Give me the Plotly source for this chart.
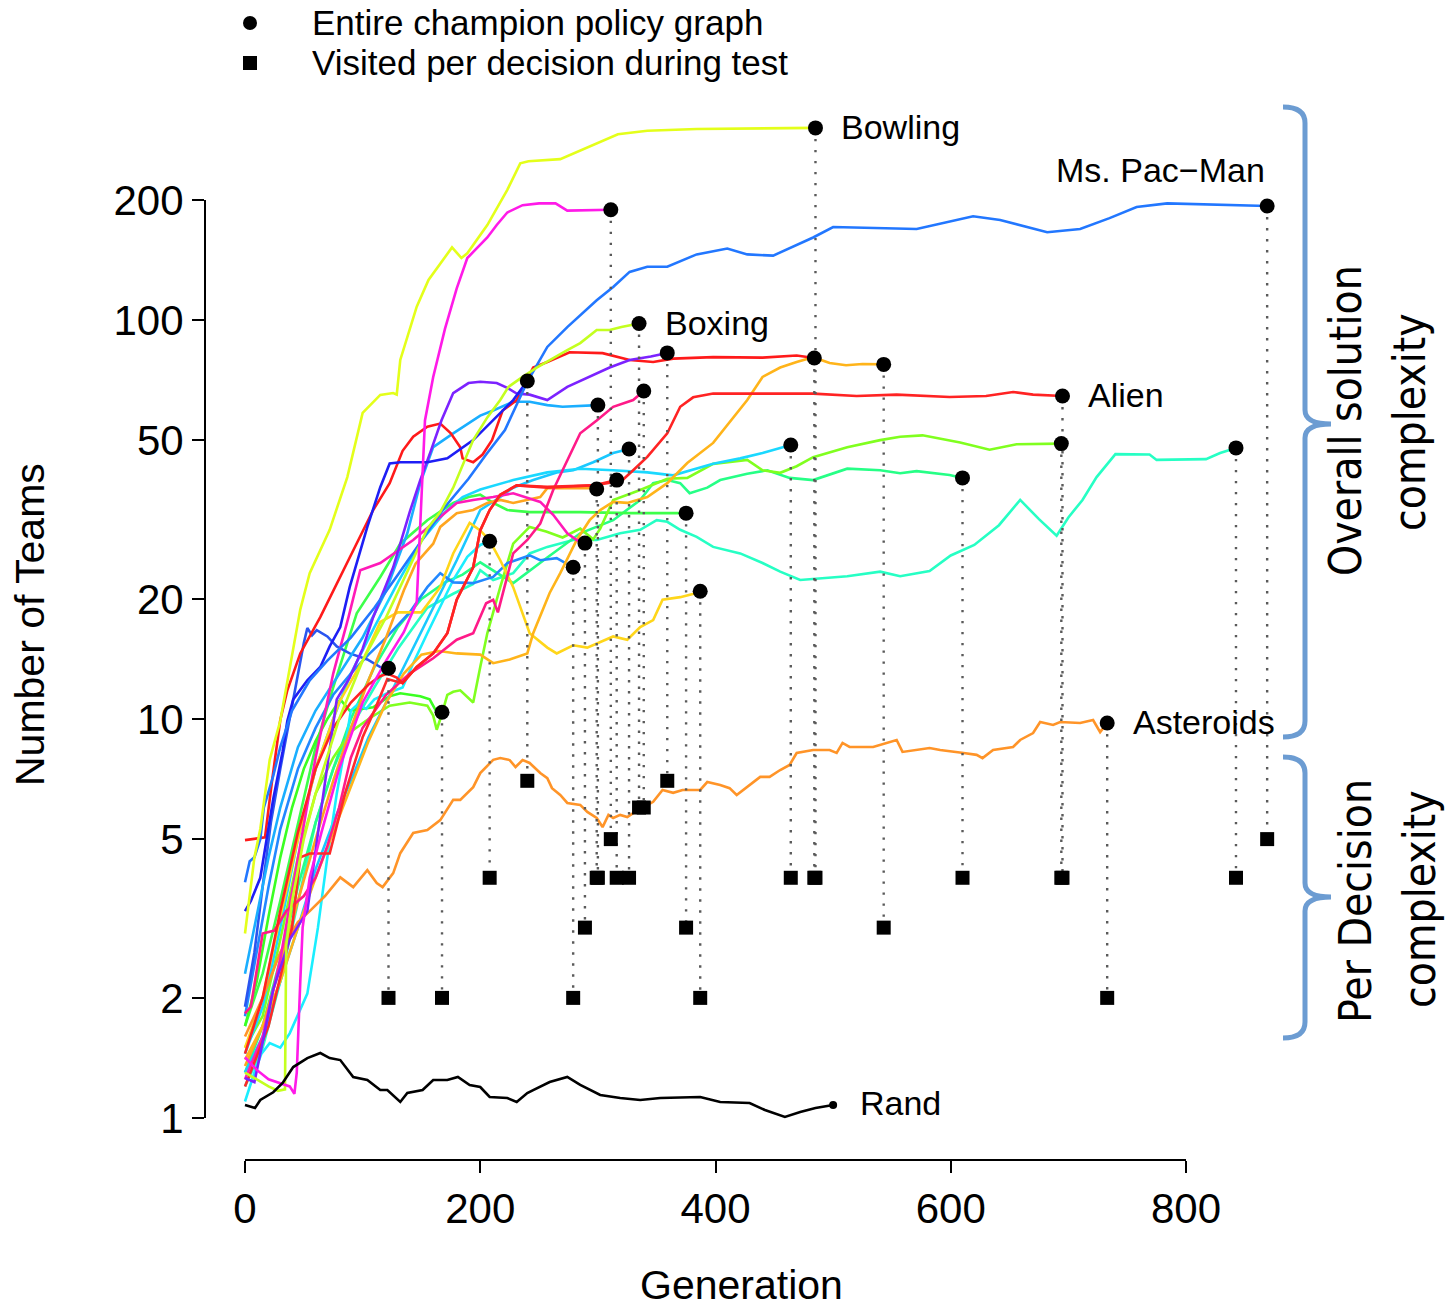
import math
import plotly.graph_objects as go

# ---------------- data (generation, number of teams) ----------------
bowling = [(0, 2.9), (4, 3.6), (8, 4.5), (13, 5.3), (21, 7.9), (30, 9.9), (47, 18.8), (55, 23.2), (72, 29.8),
           (87, 40.4), (100, 58.5), (115, 64.9), (126, 65.6), (129, 65.0), (132, 79.4), (146, 108), (156, 126),
           (176, 152), (184, 143), (189, 147), (206, 173), (223, 212), (234, 247), (241, 250), (268, 253),
           (317, 292), (342, 298), (384, 301), (440, 302), (485, 303)]
magenta = [(0, 1.42), (10, 1.32), (20, 1.25), (30, 1.22), (38, 1.2), (42, 1.15), (44, 1.3), (47, 2.2), (49, 3.0),
           (55, 4.0), (65, 5.2), (80, 7.5), (100, 11), (120, 14), (135, 16.5), (146, 19.6), (150, 35), (153, 56),
           (160, 72), (170, 95), (180, 120), (189, 143), (206, 161), (214, 173), (223, 186), (236, 194),
           (250, 196), (264, 196), (274, 188), (311, 189)]
mspacman = [(0, 3.9), (4, 4.4), (8, 4.5), (13, 5.0), (16, 6.0), (24, 7.2), (30, 8.5), (40, 10.5), (55, 12.5),
            (70, 14), (90, 16), (110, 19), (130, 23), (150, 28), (170, 34), (190, 40), (205, 46), (221, 53),
            (240, 70), (257, 85.6), (274, 96), (299, 112), (313, 121), (327, 132), (342, 136), (359, 136),
            (384, 146), (410, 151), (427, 146), (449, 145), (483, 161), (500, 171), (554, 170), (571, 169),
            (619, 182), (642, 178), (682, 166), (710, 169), (735, 180), (758, 192), (784, 196), (840, 194),
            (869, 193)]
boxing = [(0, 1.3), (10, 1.25), (20, 1.2), (28, 1.17), (34, 1.18), (35, 2.7), (40, 3.5), (50, 5), (60, 6.5),
          (80, 10), (100, 14), (120, 18), (140, 24), (155, 30), (166, 33), (177, 38), (194, 50), (206, 57),
          (217, 63), (224, 68), (236, 72), (248, 76), (274, 84), (285, 87.5), (299, 94.4), (310, 94.4),
          (320, 96), (335, 98)]
purple = [(0, 1.26), (8, 1.23), (16, 1.6), (24, 2.1), (38, 2.8), (53, 3.3), (65, 6), (78, 11.2), (89, 12.7),
          (100, 15), (109, 18), (126, 24), (140, 33), (149, 39.7), (158, 47), (167, 56), (177, 65.6), (190, 69.5),
          (200, 70), (214, 69.5), (223, 67.6), (231, 65.4), (242, 65), (257, 63), (274, 68), (293, 72),
          (310, 76), (327, 79.4), (345, 81), (359, 82.7)]
red_a = [(0, 4.97), (17, 5.05), (23, 7.0), (30, 9.94), (36, 11.8), (47, 14.6), (64, 18), (81, 22.7), (92, 26.5),
         (109, 33.4), (123, 39), (134, 47), (143, 51), (155, 54), (166, 55), (175, 52), (183, 48), (185, 45),
         (194, 44), (202, 46), (210, 50), (219, 59.3), (231, 63), (245, 76), (257, 78.5), (276, 83), (304, 82.6),
         (327, 79.4), (347, 78.5), (364, 80), (398, 80.7), (440, 80.5), (469, 81.5), (484, 80.3)]
orange_a = [(0, 1.4), (15, 1.7), (30, 2.2), (45, 3.0), (60, 4.0), (75, 5.2), (90, 6.8), (105, 8.8), (120, 11),
            (135, 13), (150, 14.5), (165, 14.8), (180, 14.6), (200, 14.5), (211, 13.8), (225, 14.1), (240, 14.6),
            (245, 16.4), (259, 20.7), (268, 23.2), (282, 28.1), (293, 31.5), (302, 33.4), (313, 35), (325, 34.8),
            (342, 36), (359, 39), (376, 43.8), (398, 49.2), (427, 63), (440, 72), (455, 76), (469, 78.5),
            (483, 80.7), (497, 78), (511, 77), (525, 77.6), (543, 77.4)]
alien = [(0, 1.45), (15, 2.0), (30, 3.3), (45, 5.2), (60, 7.5), (75, 9.5), (90, 11), (105, 12.2), (115, 12.8),
         (121, 13), (129, 12.7), (134, 12.3), (146, 13.5), (160, 14.6), (172, 16.4), (180, 19.9), (194, 24),
         (200, 29.7), (208, 33.4), (217, 36.5), (231, 38.5), (257, 38), (279, 38.3), (296, 38.5), (313, 39.2),
         (321, 39.7), (330, 42), (342, 45.4), (359, 52), (370, 60.6), (381, 64), (398, 65.4), (440, 65.4),
         (483, 65.4), (520, 64.5), (554, 65), (599, 64.1), (630, 64.5), (653, 66), (670, 65), (695, 64.5)]
red_b = [(0, 1.2), (20, 1.7), (40, 3.0), (47, 4.5), (55, 4.6), (72, 4.6), (85, 6.5), (100, 9), (110, 10.5),
         (121, 12.6), (134, 12.3), (146, 13.5), (160, 14.6), (172, 16.4), (180, 19.9), (194, 24), (200, 29.7),
         (208, 33.4), (217, 36.5), (231, 38.5), (257, 38.2), (279, 38.3), (296, 38.5), (316, 39.7)]
lime = [(0, 1.5), (15, 1.8), (30, 2.8), (45, 4.5), (60, 6.5), (75, 8), (90, 9.3), (105, 10), (123, 10.8),
        (140, 11), (155, 10.8), (160, 10.2), (163, 9.4), (167, 10.2), (172, 11.5), (177, 11.7), (183, 11.8),
        (194, 11), (200, 13.5), (206, 16.4), (217, 21.4), (228, 27.5), (242, 30.3), (256, 29.5), (270, 28.5),
        (285, 30), (296, 28.2), (302, 30), (313, 35.4), (336, 37.5), (359, 40), (376, 40.2), (398, 43.6),
        (427, 44.6), (440, 42), (455, 41.4), (469, 43), (483, 45.3), (512, 48), (540, 50), (557, 51),
        (576, 51.4), (608, 49.3), (633, 47.3), (656, 48.8), (694, 49)]
teal = [(0, 1.2), (15, 1.5), (30, 2.2), (45, 3.5), (60, 5.5), (75, 7.5), (90, 9.5), (110, 12), (130, 15),
        (155, 19), (177, 20.6), (194, 21.8), (200, 23.6), (211, 22.3), (228, 23.2), (242, 26), (257, 27),
        (279, 28.1), (299, 28.1), (319, 29.2), (336, 29.8), (350, 31.5), (359, 31.2), (370, 29.8), (384, 28.6),
        (398, 27), (421, 26), (440, 24.6), (455, 23.4), (472, 22.3), (489, 22.5), (512, 22.8), (540, 23.4),
        (557, 22.8), (582, 23.5), (600, 25.7), (620, 27.3), (641, 30.6), (659, 35.4), (675, 31.7), (690, 28.8),
        (700, 32), (712, 35.4), (724, 40.4), (740, 46.1), (769, 46), (775, 44.6), (817, 44.8), (829, 46.4),
        (842.5, 47.8)]
asteroids = [(0, 1.6), (15, 2.0), (30, 2.6), (45, 3.1), (55, 3.3), (68, 3.6), (81, 4.01), (92, 3.79), (104, 4.18),
             (112, 3.88), (117, 3.79), (126, 4.11), (132, 4.61), (143, 5.18), (155, 5.27), (166, 5.58), (177, 6.27),
             (183, 6.27), (194, 6.75), (200, 7.32), (211, 7.9), (217, 7.98), (225, 7.89), (230, 7.58), (236, 7.89),
             (242, 7.76), (251, 7.32), (257, 7.11), (261, 6.71), (268, 6.45), (274, 6.16), (285, 6.09),
             (291, 5.85), (299, 5.65), (304, 5.36), (309, 5.75), (313, 5.65), (319, 5.75), (325, 5.68),
             (330, 5.81), (347, 6.2), (355, 6.64), (364, 6.53), (372, 6.64), (387, 6.64), (393, 6.95), (404, 6.83),
             (412, 6.71), (418, 6.45), (427, 6.76), (438, 7.16), (446, 7.16), (455, 7.45), (463, 7.67),
             (469, 8.22), (483, 8.36), (497, 8.36), (503, 8.22), (508, 8.71), (514, 8.51), (534, 8.51),
             (554, 8.86), (559, 8.27), (582, 8.46), (591, 8.36), (611, 8.22), (622, 8.13), (627, 7.98),
             (636, 8.36), (653, 8.51), (659, 8.86), (670, 9.22), (676, 9.83), (687, 9.66), (693, 9.83),
             (710, 9.77), (721, 9.94), (727, 9.27), (733, 9.77)]
spring = [(0, 1.3), (15, 1.7), (30, 2.5), (45, 3.8), (60, 5.5), (75, 7.5), (90, 10), (110, 13.5), (130, 17),
          (150, 20), (170, 22), (185, 23), (200, 24.7), (228, 21.9), (257, 25.4), (285, 29.2), (313, 31.5),
          (336, 35.4), (347, 39), (359, 39.7), (370, 39), (378, 36.8), (393, 38), (404, 39.7), (427, 41.2),
          (444, 42), (463, 40.2), (483, 39.7), (512, 42.4), (540, 42), (557, 41.3), (571, 41.8), (599, 40.9),
          (610, 40.2)]
cyan_a = [(0, 1.45), (15, 1.9), (30, 3), (45, 5), (60, 7.5), (75, 10), (90, 13), (110, 17), (130, 22), (150, 28),
          (170, 33), (185, 36), (200, 37.6), (228, 39.7), (257, 41.5), (285, 42.4), (313, 42), (342, 41.5),
          (364, 40.8), (398, 43.6), (421, 45), (440, 46.4), (464, 48.6)]
green_a = [(0, 1.7), (15, 2.3), (30, 3.5), (45, 5.5), (60, 8.5), (75, 12), (95, 18.4), (115, 22.7), (132, 27.5),
           (155, 31.5), (177, 34.8), (190, 36), (200, 36.5), (211, 34.8), (223, 33.4), (242, 33), (285, 33),
           (327, 32.8), (375, 32.8)]
yellow = [(0, 1.5), (15, 2), (30, 3.2), (45, 5), (60, 7.5), (80, 11), (100, 14), (115, 17.5), (130, 18.5),
          (150, 18.5), (166, 21.4), (177, 26), (191, 31), (200, 29.7), (208, 28), (217, 25), (228, 21.4),
          (236, 18.4), (242, 16.4), (257, 15.1), (265, 14.6), (279, 15.3), (291, 15.1), (313, 16.1), (325, 15.8),
          (336, 17), (347, 17.7), (355, 19.9), (370, 20.2), (384, 20.7), (387, 20.9)]
darkblue = [(0, 3.3), (5, 3.5), (13, 4.0), (24, 6.3), (32, 8.3), (36, 9.9), (41, 11.2), (53, 12.5), (64, 13.5),
            (72, 15.2), (81, 17), (89, 21.4), (104, 30.3), (115, 38.1), (123, 43.7), (132, 44), (155, 44),
            (172, 45), (194, 50), (211, 56), (228, 63), (240, 70.3)]
skyblue = [(0, 2.3), (10, 3.2), (20, 4.5), (30, 6), (45, 8.5), (60, 10.5), (80, 13), (100, 16), (120, 21),
           (138, 29.2), (149, 39), (160, 48), (177, 52), (200, 57.6), (211, 59.3), (228, 62.4), (242, 62.4),
           (257, 61.2), (270, 60.6), (300, 61.2)]
pink = [(0, 1.83), (5, 1.9), (15, 2.9), (25, 2.95), (35, 3.3), (50, 3.6), (60, 4), (70, 4.8), (80, 6), (90, 8),
        (100, 9.5), (120, 11.5), (140, 13), (160, 14.2), (180, 15.8), (194, 16.4), (205, 19.5), (211, 19.9),
        (215, 18.5), (228, 26), (240, 28.1), (251, 30.9), (262, 37.5), (274, 44.6), (285, 52), (299, 56),
        (313, 60.6), (330, 63), (339, 66.4)]
rose = [(0, 1.25), (15, 1.6), (30, 2.5), (45, 4.5), (60, 8), (75, 13), (88, 18), (98, 23.6), (115, 24.6),
        (143, 28.1), (166, 32), (180, 34.8), (194, 35.4), (211, 36), (228, 36.8), (251, 35), (262, 32.5),
        (274, 29.2), (282, 28.1), (289, 27.6)]
cyan_b = [(0, 1.3), (15, 1.6), (30, 2.2), (45, 3), (60, 4.2), (75, 5.5), (90, 7), (105, 9), (120, 11), (140, 14.5),
          (160, 19), (180, 25), (200, 33.4), (217, 36), (228, 38), (245, 39.7), (265, 41.5), (279, 42), (296, 44),
          (313, 46.4), (326.5, 47.5)]
orange_b = [(0, 1.35), (15, 1.7), (30, 2.4), (45, 3.5), (60, 5), (75, 7), (90, 9.5), (105, 12.5), (120, 16),
            (135, 21), (145, 24.5), (160, 27.5), (166, 30.3), (180, 32.8), (194, 33.4), (206, 34.8), (217, 35.4),
            (228, 34.8), (251, 36), (257, 37.9), (293, 37.9), (299, 37.7)]
blue_a = [(0, 1.8), (10, 2.6), (20, 3.8), (30, 5.3), (45, 7.5), (60, 9.5), (75, 11.5), (90, 13), (105, 14.5),
          (120, 16), (140, 18.5), (155, 21.4), (166, 23.2), (177, 22), (194, 21.9), (211, 22.7), (223, 24.6),
          (242, 25.7), (251, 25), (265, 25.3), (279, 24.0)]
cyan_c = [(0, 1.1), (8, 1.3), (14, 1.45), (21, 1.54), (30, 1.5), (38, 1.63), (53, 2.05), (62, 3), (70, 4.5),
          (78, 6.5), (85, 8.5), (90, 10.5), (96, 10.9), (103, 10.6), (110, 11.2), (121, 11.6), (134, 12),
          (143, 13.8), (155, 16.4), (166, 19.1), (177, 22.3), (189, 25.5), (200, 27.3), (208, 27.9)]
blue_b = [(0, 1.9), (8, 2.6), (15, 3.8), (22, 5.5), (30, 7.5), (38, 10), (45, 13), (50, 15.5), (53, 16.9),
          (57, 16.2), (61, 16.7), (70, 16.1), (78, 15.2), (89, 14.6), (104, 14.1), (115, 13.5), (122, 13.4)]
green_b = [(0, 1.7), (10, 2.2), (20, 3.2), (30, 4.5), (40, 6), (50, 7.5), (60, 8.8), (70, 10), (81, 11.2),
           (89, 10.5), (109, 10.7), (123, 11.4), (132, 11.6), (149, 11.4), (157, 11.2), (163, 10.4), (167.5, 10.4)]
rand = [(0, 1.078), (8.5, 1.059), (13, 1.11), (24, 1.16), (32, 1.224), (41, 1.342), (53, 1.413), (64, 1.455),
        (72, 1.413), (81, 1.397), (92, 1.267), (104, 1.245), (115, 1.175), (121, 1.175), (132, 1.097),
        (138, 1.155), (151, 1.175), (160, 1.245), (172, 1.245), (181, 1.267), (191, 1.21), (200, 1.196),
        (208, 1.129), (223, 1.122), (231, 1.097), (240, 1.155), (245, 1.175), (259, 1.231), (274, 1.267),
        (285, 1.21), (302, 1.142), (319, 1.122), (336, 1.11), (353, 1.122), (387, 1.129), (404, 1.097),
        (429, 1.09), (442, 1.047), (459, 1.006), (472, 1.035), (485, 1.059), (500, 1.078)]

# teams visited per decision during test (one per champion)
visited = {"bowling": 4, "magenta": 5, "mspacman": 5, "boxing": 6, "purple": 7, "red_a": 4, "orange_a": 3,
           "alien": 4, "red_b": 4, "lime": 4, "teal": 4, "asteroids": 2, "spring": 4, "cyan_a": 4, "green_a": 3,
           "yellow": 2, "darkblue": 7, "skyblue": 4, "pink": 6, "rose": 3, "cyan_b": 4, "orange_b": 4,
           "blue_a": 2, "cyan_c": 4, "blue_b": 2, "green_b": 2}

x_ticks = [0, 200, 400, 600, 800]
y_ticks = [1, 2, 5, 10, 20, 50, 100, 200]

series = [
    ("teal", teal, "#26FFC4"), ("spring", spring, "#26FF86"), ("green_a", green_a, "#3DFF4A"),
    ("green_b", green_b, "#3BFF22"), ("lime", lime, "#80FF1F"), ("cyan_b", cyan_b, "#1AC8FF"),
    ("cyan_c", cyan_c, "#1AEEFF"), ("cyan_a", cyan_a, "#1AD8FF"), ("blue_a", blue_a, "#2288FF"),
    ("blue_b", blue_b, "#2A55F0"), ("skyblue", skyblue, "#1AAEFF"), ("yellow", yellow, "#FFD61A"),
    ("orange_b", orange_b, "#FFA51F"), ("orange_a", orange_a, "#FFB41A"), ("asteroids", asteroids, "#FF9428"),
    ("rose", rose, "#FF1AB8"), ("pink", pink, "#FF1A88"), ("red_b", red_b, "#FF2A2A"),
    ("alien", alien, "#FF2323"), ("red_a", red_a, "#FF1A1A"), ("purple", purple, "#7C22FF"),
    ("darkblue", darkblue, "#1E1EF5"), ("mspacman", mspacman, "#2277FF"), ("boxing", boxing, "#C4FF1F"),
    ("magenta", magenta, "#FF1AE8"), ("bowling", bowling, "#E4FF1A"),
]
labels = {"bowling": "Bowling", "mspacman": "Ms. Pac\u2212Man", "boxing": "Boxing", "alien": "Alien",
          "asteroids": "Asteroids"}

# ---------------- geometry of the page ----------------
W, H = 1453, 1309
ML, MR, MT, MB = 205, 163, 100, 149
PW, PH = W - ML - MR, H - MT - MB
FONT = "Liberation Sans, Arial, Helvetica, sans-serif"
NARROW = "Liberation Sans Narrow, DejaVu Sans Condensed, Liberation Sans, sans-serif"


def px(xp):
    return (xp - ML) / PW


def py(yp):
    return (H - MB - yp) / PH


fig = go.Figure()

for key, pts, col in series:
    fig.add_trace(go.Scatter(x=[p[0] for p in pts], y=[p[1] for p in pts], mode="lines",
                             line=dict(color=col, width=2.6), hoverinfo="skip", showlegend=False))

fig.add_trace(go.Scatter(x=[p[0] for p in rand], y=[p[1] for p in rand], mode="lines",
                         line=dict(color="black", width=2.6), hoverinfo="skip", showlegend=False))

# dotted drop lines from champion size to per-decision size
for key, pts, col in series:
    g, v = pts[-1]
    fig.add_trace(go.Scatter(x=[g, g], y=[v, visited[key]], mode="lines",
                             line=dict(color="#5a5a5a", width=2.4, dash="2.4px,8.6px"),
                             hoverinfo="skip", showlegend=False))

fig.add_trace(go.Scatter(x=[pts[-1][0] for _, pts, _ in series], y=[visited[k] for k, _, _ in series],
                         mode="markers", marker=dict(symbol="square", size=14, color="black"),
                         hoverinfo="skip", showlegend=False, cliponaxis=False))
fig.add_trace(go.Scatter(x=[pts[-1][0] for _, pts, _ in series], y=[pts[-1][1] for _, pts, _ in series],
                         mode="markers", marker=dict(symbol="circle", size=15, color="black"),
                         hoverinfo="skip", showlegend=False, cliponaxis=False))
fig.add_trace(go.Scatter(x=[rand[-1][0]], y=[rand[-1][1]], mode="markers",
                         marker=dict(symbol="circle", size=8, color="black"),
                         hoverinfo="skip", showlegend=False, cliponaxis=False))

annotations = []
for key, pts, col in series:
    if key in labels:
        g, v = pts[-1]
        if key == "mspacman":
            annotations.append(dict(x=g, y=math.log10(v), xref="x", yref="y", text=labels[key], showarrow=False,
                                    xanchor="right", yanchor="middle", xshift=0, yshift=36,
                                    font=dict(family=FONT, size=34, color="black")))
        else:
            annotations.append(dict(x=g, y=math.log10(v), xref="x", yref="y", text=labels[key], showarrow=False,
                                    xanchor="left", yanchor="middle", xshift=24, yshift=1,
                                    font=dict(family=FONT, size=34, color="black")))
annotations.append(dict(x=rand[-1][0], y=math.log10(rand[-1][1]), xref="x", yref="y", text="Rand",
                        showarrow=False, xanchor="left", yanchor="middle", xshift=25, yshift=2,
                        font=dict(family=FONT, size=34, color="black")))

# axis titles
annotations.append(dict(x=px(741), y=py(1285), xref="paper", yref="paper", text="Generation", showarrow=False,
                        xanchor="center", yanchor="middle", font=dict(family=FONT, size=41, color="black")))
annotations.append(dict(x=px(30), y=py(625), xref="paper", yref="paper", text="Number of Teams", showarrow=False,
                        xanchor="center", yanchor="middle", textangle=-90,
                        font=dict(family=FONT, size=41, color="black")))

# legend text
annotations.append(dict(x=px(310), y=py(23), xref="paper", yref="paper", text="Entire champion policy graph",
                        showarrow=False, xanchor="left", yanchor="middle",
                        font=dict(family=FONT, size=35, color="black")))
annotations.append(dict(x=px(310), y=py(63), xref="paper", yref="paper", text="Visited per decision during test",
                        showarrow=False, xanchor="left", yanchor="middle",
                        font=dict(family=FONT, size=35, color="black")))

# brace texts
for txt, cx, cy in [("Overall solution", 1345, 420), ("complexity", 1409, 422),
                    ("Per Decision", 1355, 901), ("complexity", 1419, 899)]:
    annotations.append(dict(x=px(cx), y=py(cy), xref="paper", yref="paper", text=txt, showarrow=False,
                            xanchor="center", yanchor="middle", textangle=-90,
                            font=dict(family=NARROW, size=44, color="black")))

shapes = []
# R-style detached axis lines
shapes.append(dict(type="line", xref="x", yref="paper", x0=0, x1=800, y0=0, y1=0,
                   line=dict(color="black", width=2)))
shapes.append(dict(type="line", xref="paper", yref="y", x0=0, x1=0, y0=1, y1=200,
                   line=dict(color="black", width=2)))
# legend keys
shapes.append(dict(type="circle", xref="paper", yref="paper", x0=px(243), x1=px(257), y0=py(30), y1=py(16),
                   fillcolor="black", line=dict(color="black", width=0)))
shapes.append(dict(type="rect", xref="paper", yref="paper", x0=px(243), x1=px(257), y0=py(70), y1=py(56),
                   fillcolor="black", line=dict(color="black", width=0)))


def brace(top, bottom, cusp):
    xl, xv, xc = 1283, 1305, 1331
    pts = [
        f"M {px(xl)},{py(top)}",
        f"Q {px(xv)},{py(top)} {px(xv)},{py(top + 16)}",
        f"L {px(xv)},{py(cusp - 14)}",
        f"Q {px(xv)},{py(cusp)} {px(xc)},{py(cusp)}",
        f"Q {px(xv)},{py(cusp)} {px(xv)},{py(cusp + 14)}",
        f"L {px(xv)},{py(bottom - 16)}",
        f"Q {px(xv)},{py(bottom)} {px(xl)},{py(bottom)}",
    ]
    return " ".join(pts)


for t, b, c in [(107, 737, 424), (757, 1038, 897)]:
    shapes.append(dict(type="path", xref="paper", yref="paper", path=brace(t, b, c),
                       line=dict(color="#6C9CD2", width=5)))

fig.update_layout(
    width=W, height=H, margin=dict(l=ML, r=MR, t=MT, b=MB, autoexpand=False),
    paper_bgcolor="white", plot_bgcolor="white", showlegend=False,
    annotations=annotations, shapes=shapes,
    xaxis=dict(range=[(ML - 245) / 1.17625, (W - MR - 245) / 1.17625], tickmode="array", tickvals=x_ticks,
               ticktext=[str(v) for v in x_ticks], ticks="outside", ticklen=12, tickwidth=2, tickcolor="black",
               showgrid=False, zeroline=False, showline=False,
               tickfont=dict(family=FONT, size=42, color="black")),
    yaxis=dict(type="log", range=[(1118 - (H - MB)) / 399, (1118 - MT) / 399], tickmode="array",
               tickvals=y_ticks, ticktext=[str(v) for v in y_ticks], ticks="outside", ticklen=12, tickwidth=2,
               tickcolor="black", showgrid=False, zeroline=False, showline=False,
               tickfont=dict(family=FONT, size=42, color="black")),
)

fig.write_html("out.html")
